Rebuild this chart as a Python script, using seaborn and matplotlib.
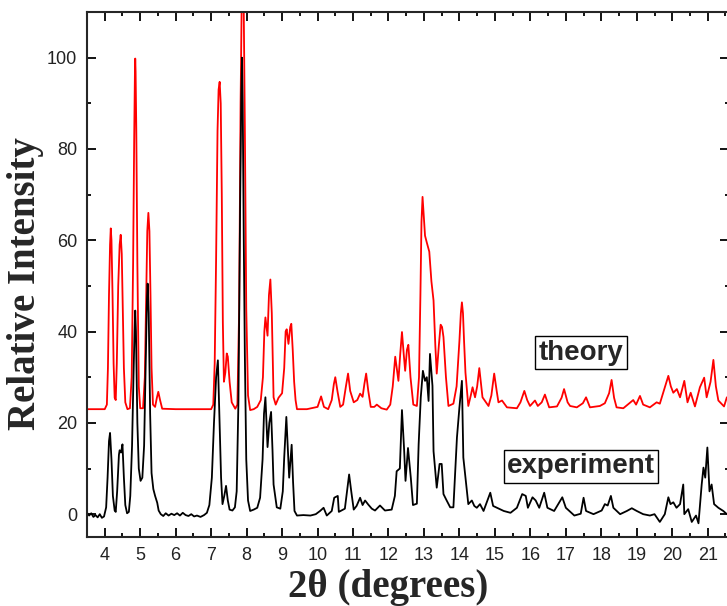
import pandas as pd
import numpy as np
import seaborn as sb
import matplotlib
matplotlib.use('Agg')
import matplotlib.pyplot as plt
from matplotlib.ticker import MultipleLocator

# theory (simulated pattern, offset upward)
theory_x = [3.50, 4.00, 4.06, 4.09, 4.12, 4.15, 4.17, 4.19, 4.22, 4.25, 4.28, 4.31, 4.34, 4.38, 4.42, 4.45,
            4.48, 4.51, 4.54, 4.58, 4.64, 4.71, 4.76, 4.80, 4.83, 4.85, 4.86, 4.87, 4.89, 4.92, 4.96, 5.00,
            5.08, 5.13, 5.17, 5.20, 5.23, 5.26, 5.29, 5.32, 5.36, 5.42, 5.47, 5.51, 5.56, 5.62, 6.00, 6.50,
            7.00, 7.06, 7.10, 7.14, 7.18, 7.21, 7.24, 7.27, 7.30, 7.33, 7.36, 7.40, 7.44, 7.47, 7.52, 7.58,
            7.68, 7.74, 7.79, 7.83, 7.87, 7.91, 7.95, 7.99, 8.04, 8.10, 8.20, 8.30, 8.40, 8.46, 8.50, 8.53,
            8.59, 8.63, 8.67, 8.71, 8.76, 8.82, 8.90, 9.00, 9.06, 9.10, 9.13, 9.18, 9.23, 9.26, 9.30, 9.34,
            9.38, 9.42, 9.70, 10.00, 10.10, 10.18, 10.30, 10.40, 10.46, 10.50, 10.56, 10.64, 10.72, 10.80,
            10.86, 10.92, 11.02, 11.12, 11.20, 11.27, 11.32, 11.37, 11.43, 11.50, 11.60, 11.67, 11.80,
            11.95, 12.05, 12.12, 12.19, 12.28, 12.33, 12.38, 12.43, 12.47, 12.52, 12.56, 12.62, 12.70,
            12.80, 12.86, 12.90, 12.93, 12.96, 12.99, 13.03, 13.08, 13.15, 13.21, 13.27, 13.32, 13.36,
            13.42, 13.47, 13.51, 13.55, 13.62, 13.69, 13.83, 13.92, 14.00, 14.04, 14.07, 14.10, 14.13,
            14.17, 14.25, 14.32, 14.37, 14.44, 14.50, 14.56, 14.65, 14.82, 14.90, 14.98, 15.05, 15.10,
            15.20, 15.34, 15.62, 15.72, 15.83, 15.91, 15.99, 16.13, 16.21, 16.32, 16.41, 16.53, 16.75,
            16.88, 16.95, 17.05, 17.12, 17.31, 17.48, 17.57, 17.68, 17.96, 18.10, 18.22, 18.29, 18.36,
            18.43, 18.62, 18.76, 18.90, 18.98, 19.09, 19.18, 19.37, 19.56, 19.65, 19.76, 19.89, 19.96,
            20.03, 20.13, 20.22, 20.34, 20.43, 20.52, 20.64, 20.78, 20.90, 20.97, 21.08, 21.16, 21.23,
            21.30, 21.46, 21.54]
theory_y = [23.0, 23.0, 24, 32, 48, 59, 62.6, 60, 48, 33, 25.5, 25, 33, 50, 59, 61.2,
            57, 45, 32, 24.5, 23.0, 23.2, 30, 55, 82, 96, 99.8, 97, 84, 55, 28, 23.2,
            23.2, 30, 48, 62, 66, 62, 48, 32, 24, 23.5, 25.5, 26.8, 25, 23.1, 23.0, 23.0,
            23.0, 24, 33, 56, 84, 93, 94.7, 90, 70, 42, 29, 31, 35.2, 34.5, 29, 24.5,
            23.1, 24, 45, 90, 118, 118, 85, 45, 26, 22.8, 23.0, 23.5, 25, 30, 40, 43.1,
            39.1, 48, 51.4, 44, 25.6, 24, 25.5, 26.5, 32, 40, 40.5, 37.3, 41, 41.7, 36, 29,
            25, 23.0, 23.0, 23.5, 25.8, 23.5, 23.0, 25, 28.5, 30, 27, 23.5, 24, 28,
            30.8, 27, 24.5, 25, 26.4, 25.7, 28.5, 30.8, 27, 23.5, 23.5, 24, 23.2,
            22.9, 24, 28, 34.5, 29.2, 35, 39.9, 35, 31.4, 36, 37.1, 30, 24,
            23.7, 30, 48, 64, 69.5, 66, 61, 59.5, 57.5, 51, 46.8, 37, 30.8,
            37, 41.5, 41, 38.8, 30, 23.7, 24.2, 28, 38, 44, 46.4, 44, 38,
            31, 23.7, 26, 27.8, 25.6, 28, 32, 25.6, 23.7, 26, 30.8, 27, 24.5,
            24.9, 23.4, 23.2, 24.5, 27, 25, 23.7, 24.9, 23.7, 24.5, 26.2, 23.4, 23.6,
            25.5, 27.4, 24.5, 23.7, 23.4, 24.3, 25.6, 23.4, 23.7, 24.3, 26.5, 29.4, 25.5,
            23.4, 23.2, 24.1, 25.0, 24, 25.9, 24, 23.4, 24.5, 24.2, 27, 30.3, 28,
            26.6, 27.4, 25.6, 29.2, 24.5, 26.6, 23.6, 27.8, 29.9, 25.6, 29, 33.8, 28,
            24.9, 23.6, 25.6]

# experiment (measured pattern)
exp_x = [3.50, 3.56, 3.62, 3.68, 3.74, 3.80, 3.86, 3.92, 3.98, 4.04, 4.08, 4.12, 4.15, 4.19, 4.23, 4.28,
         4.31, 4.35, 4.40, 4.42, 4.46, 4.50, 4.54, 4.58, 4.63, 4.68, 4.72, 4.77, 4.81, 4.84, 4.86, 4.88,
         4.92, 4.96, 5.01, 5.06, 5.11, 5.16, 5.19, 5.21, 5.24, 5.28, 5.32, 5.37, 5.42, 5.48, 5.52, 5.58,
         5.65, 5.72, 5.80, 5.88, 5.96, 6.04, 6.12, 6.20, 6.28, 6.36, 6.44, 6.52, 6.60, 6.70, 6.80, 6.88,
         6.95, 7.02, 7.08, 7.14, 7.19, 7.23, 7.28, 7.32, 7.37, 7.42, 7.47, 7.52, 7.60, 7.67, 7.72, 7.77,
         7.82, 7.85, 7.87, 7.89, 7.92, 7.95, 7.99, 8.04, 8.10, 8.20, 8.30, 8.38, 8.45, 8.49, 8.53, 8.59,
         8.64, 8.69, 8.73, 8.76, 8.85, 8.95, 9.02, 9.06, 9.12, 9.20, 9.27, 9.31, 9.35, 9.42, 9.60, 9.80,
         9.95, 10.07, 10.17, 10.26, 10.40, 10.47, 10.57, 10.60, 10.77, 10.83, 10.89, 10.95, 11.02,
         11.10, 11.20, 11.27, 11.34, 11.43, 11.53, 11.62, 11.76, 11.90, 12.09, 12.18, 12.23, 12.32,
         12.38, 12.44, 12.48, 12.55, 12.63, 12.69, 12.80, 12.85, 12.91, 12.97, 13.03, 13.08, 13.13,
         13.17, 13.24, 13.27, 13.36, 13.44, 13.50, 13.55, 13.64, 13.74, 13.83, 13.93, 14.00, 14.07,
         14.11, 14.19, 14.25, 14.35, 14.42, 14.49, 14.58, 14.68, 14.87, 14.95, 15.06, 15.25, 15.44,
         15.62, 15.77, 15.87, 15.93, 16.06, 16.15, 16.25, 16.39, 16.48, 16.67, 16.90, 17.00, 17.24,
         17.42, 17.50, 17.57, 17.78, 18.01, 18.10, 18.18, 18.27, 18.34, 18.53, 18.72, 18.86, 19.00,
         19.18, 19.37, 19.50, 19.65, 19.79, 19.89, 19.95, 20.03, 20.12, 20.22, 20.31, 20.34, 20.45,
         20.55, 20.67, 20.74, 20.83, 20.88, 20.93, 20.99, 21.05, 21.11, 21.18, 21.30, 21.44, 21.54]
exp_y = [0.3, -0.3, 0.2, -0.6, -0.2, -0.7, 0.0, -0.8, -0.5, 1.5, 8, 16, 17.8, 12, 4, 0.8,
         0.5, 5, 13, 14, 13.5, 15.3, 8, 2, 0.2, 0.5, 4, 15, 30, 40, 44.6, 40,
         20, 10, 7.3, 8, 15, 35, 47, 50.5, 44, 22, 9, 5.5, 4, 2.5, 0.8, 0,
         -0.4, 0.2, -0.3, 0.1, -0.2, 0.2, -0.3, 0.3, -0.2, -0.4, 0.0, -0.5, -0.3, -0.6, -0.2, 0.3,
         2, 8, 20, 30, 33.7, 22, 8, 2.2, 4, 6.2, 3, 1, 0.8, 1.5, 5, 25,
         70, 92, 100, 90, 60, 35, 12, 3, 0.7, 1.0, 1.4, 3.6, 12, 22, 25.6, 14.7,
         20, 22.4, 14, 6.5, 1.5, 1.2, 5, 12.4, 21.3, 8, 15.2, 7, 0.7, -0.3, -0.2, -0.3,
         0.0, 0.7, 1.4, -0.3, 0.7, 3.6, 4, 0.5, 1.2, 5, 8.7, 5, 1.0,
         1.8, 3.6, 2.0, 3, 2.1, 1.2, 0.8, 1.9, 0.8, 1.0, 4, 9.4, 10,
         22.8, 14.2, 7.3, 14.5, 7.9, 2, 2.3, 15.3, 25.6, 31.4, 29.2, 30, 24.8,
         35.1, 28.1, 13.8, 5.8, 11, 11, 4.4, 3, 1.5, 1.5, 16.8, 23.4, 29.2,
         12.4, 6.5, 2.2, 3, 1.8, 1.4, 2.2, 0.7, 4.7, 1.8, 1.4, 0.7, 0.3,
         1.4, 4.4, 4, 1.4, 3.7, 3, 1.4, 4.7, 1.4, 0.7, 3.7, 1.4, -0.3,
         0.1, 3.6, 0.7, 0.0, 0.8, 2.2, 1.9, 4, 1.4, 0.0, 0.7, 1.3, 0.7,
         0.0, -0.3, 0.0, -1.7, 0.0, 3.7, 2.2, 2.6, 1.4, 2.2, 6.5, 0.0, 1.1,
         -1.7, -0.3, -2, 6.5, 10.2, 8, 14.6, 5, 6.5, 2.2, 1.4, 0.7, 0.0]

theory = pd.DataFrame({'x': theory_x, 'y': theory_y})
expt = pd.DataFrame({'x': exp_x, 'y': exp_y})

sb.set_style('ticks')
plt.rcParams['font.family'] = ['Liberation Sans', 'DejaVu Sans']
plt.rcParams['xtick.direction'] = 'in'
plt.rcParams['ytick.direction'] = 'in'

fig = plt.figure(figsize=(7.27, 6.06), dpi=100)
ax = fig.add_axes([87/727, 69/606, 642/727, 525/606])

sb.lineplot(data=theory, x='x', y='y', color='#ff0000', lw=1.3, estimator=None, sort=False, ax=ax)
sb.lineplot(data=expt, x='x', y='y', color='black', lw=1.3, estimator=None, sort=False, ax=ax)

ax.set_xlim(3.5, 21.6)
ax.set_ylim(-5, 110)
ax.xaxis.set_major_locator(MultipleLocator(1))
ax.xaxis.set_minor_locator(MultipleLocator(0.5))
ax.yaxis.set_major_locator(MultipleLocator(20))
ax.yaxis.set_minor_locator(MultipleLocator(10))
ax.tick_params(which='both', top=True, right=True, width=1.3, colors='black', labelcolor='#222222')
ax.tick_params(which='major', length=6.5, labelsize=13, pad=7)
ax.tick_params(which='minor', length=3.2)
for s in ax.spines.values():
    s.set_linewidth(1.5)

ax.set_yticks([0, 20, 40, 60, 80, 100])

ax.set_xlabel('2θ (degrees)', family=['Liberation Serif', 'DejaVu Serif'], fontweight='bold', fontsize=28)
ax.set_ylabel('Relative Intensity', family=['Liberation Serif', 'DejaVu Serif'], fontweight='bold', fontsize=28)
ax.xaxis.set_label_coords((388 - 87) / 642, -(569 - 537) / 525)
ax.xaxis.label.set_va('top')
ax.yaxis.set_label_coords((26 - 87) / 642, (537 - 284) / 525)
ax.yaxis.label.set_va('center')

box = dict(boxstyle='square,pad=0.12', fc='white', ec='black', lw=1)
ax.text(17.43, 35.4, 'theory', fontsize=20, fontweight='bold', ha='center', va='center', bbox=box)
ax.text(17.43, 10.5, 'experiment', fontsize=20, fontweight='bold', ha='center', va='center', bbox=box)

fig.savefig('out.png', dpi=100)
